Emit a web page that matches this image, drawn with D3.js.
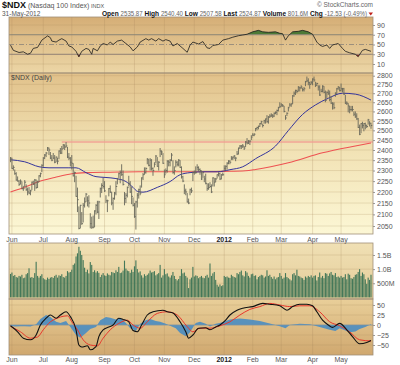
<!DOCTYPE html>
<html>
<head>
<meta charset="utf-8">
<script src="https://cdn.jsdelivr.net/npm/d3@7"></script>
<style>
  html, body { margin: 0; padding: 0; background: #fff; }
  svg { display: block; }
</style>
</head>
<body>
<div id="chart"></div>
<script>
/* ============================================================
   $NDX daily — RSI / price + MAs / volume / MACD, StockCharts style
   ============================================================ */

// ---- trading calendar: weekdays 31-May-2011 .. 31-May-2012 minus holidays
const holidays = ['2011-07-04', '2011-09-05', '2011-11-24', '2011-12-26',
  '2012-01-02', '2012-01-16', '2012-02-20', '2012-04-06', '2012-05-28'];
const monthLabels = ['Jun', 'Jul', 'Aug', 'Sep', 'Oct', 'Nov', 'Dec', '2012', 'Feb', 'Mar', 'Apr', 'May'];

// ---- daily bars (May 31 2011 first, then one row per month)
const closes = [
  2360, 2310, 2315, 2285, 2255, 2250, 2235, 2250, 2215, 2215, 2245, 2210, 2200, 2195, 2205, 2245, 2235, 2255, 2220, 2245, 2275, 2285, 2325,
  2360, 2375, 2385, 2410, 2400, 2360, 2350, 2360, 2340, 2365, 2345, 2395, 2385, 2405, 2425, 2415, 2420, 2365, 2360, 2340,
  2335, 2275, 2290, 2180, 2165, 2040, 2140, 2060, 2140, 2155, 2190, 2160, 2150, 2060, 2045, 2045, 2115, 2140, 2110, 2155, 2215, 2230, 2225,
  2205, 2160, 2160, 2215, 2200, 2150, 2170, 2195, 2225, 2260, 2285, 2290, 2280, 2235, 2170, 2185, 2220, 2240, 2200, 2180, 2140,
  2090, 2155, 2185, 2210, 2195, 2265, 2280, 2290, 2310, 2355, 2325, 2350, 2310, 2300, 2330, 2370, 2320, 2340, 2395, 2390, 2335,
  2280, 2300, 2345, 2340, 2350, 2375, 2290, 2300, 2340, 2330, 2350, 2315, 2270, 2250, 2205, 2200, 2155, 2150, 2210, 2205, 2290,
  2290, 2290, 2315, 2305, 2300, 2260, 2290, 2260, 2240, 2215, 2220, 2225, 2200, 2265, 2245, 2260, 2280, 2285, 2260, 2280, 2280,
  2310, 2320, 2335, 2345, 2340, 2360, 2365, 2370, 2360, 2380, 2410, 2420, 2420, 2420, 2410, 2440, 2435, 2445, 2445, 2465,
  2475, 2480, 2510, 2515, 2520, 2535, 2545, 2525, 2550, 2560, 2545, 2570, 2575, 2580, 2575, 2590, 2595, 2605, 2620, 2625,
  2635, 2630, 2600, 2565, 2590, 2620, 2635, 2640, 2685, 2700, 2715, 2710, 2735, 2730, 2735, 2720, 2725, 2765, 2770, 2760, 2750, 2760,
  2780, 2775, 2745, 2755, 2735, 2690, 2710, 2740, 2705, 2660, 2705, 2700, 2665, 2645, 2640, 2620, 2700, 2725, 2735, 2715,
  2725, 2725, 2695, 2645, 2645, 2630, 2610, 2610, 2610, 2585, 2575, 2560, 2515, 2480, 2535, 2525, 2535, 2525, 2520, 2555, 2537, 2525
];
const highs = [
  2365, 2362, 2325, 2305, 2292, 2272, 2255, 2258, 2248, 2228, 2255, 2235, 2220, 2222, 2210, 2248, 2252, 2260, 2258, 2252, 2278, 2290, 2330,
  2365, 2380, 2390, 2415, 2412, 2390, 2375, 2385, 2375, 2368, 2362, 2398, 2410, 2420, 2430, 2428, 2440, 2415, 2385, 2365,
  2375, 2335, 2295, 2275, 2220, 2135, 2142, 2110, 2150, 2175, 2195, 2180, 2185, 2105, 2090, 2095, 2118, 2145, 2160, 2160, 2220, 2240, 2265,
  2250, 2185, 2165, 2218, 2230, 2200, 2175, 2200, 2250, 2265, 2290, 2300, 2330, 2300, 2200, 2195, 2225, 2275, 2250, 2225, 2175,
  2150, 2160, 2195, 2215, 2230, 2268, 2288, 2315, 2315, 2360, 2355, 2360, 2355, 2315, 2340, 2375, 2365, 2345, 2410, 2398, 2385,
  2305, 2310, 2350, 2350, 2355, 2385, 2350, 2320, 2350, 2345, 2355, 2350, 2320, 2275, 2235, 2215, 2195, 2170, 2215, 2220, 2295,
  2300, 2320, 2330, 2320, 2310, 2300, 2295, 2275, 2285, 2240, 2240, 2245, 2235, 2268, 2265, 2265, 2282, 2292, 2290, 2283, 2290,
  2325, 2325, 2340, 2350, 2350, 2370, 2368, 2375, 2365, 2395, 2412, 2425, 2425, 2430, 2420, 2445, 2460, 2450, 2448, 2475,
  2485, 2485, 2512, 2518, 2525, 2538, 2550, 2535, 2555, 2562, 2580, 2575, 2585, 2590, 2585, 2595, 2600, 2610, 2625, 2650,
  2645, 2640, 2630, 2580, 2595, 2625, 2645, 2645, 2690, 2710, 2720, 2720, 2740, 2735, 2745, 2730, 2735, 2770, 2795, 2785, 2765, 2770,
  2785, 2795, 2765, 2760, 2745, 2745, 2725, 2745, 2740, 2715, 2710, 2720, 2715, 2685, 2650, 2650, 2705, 2730, 2740, 2735,
  2755, 2730, 2730, 2690, 2655, 2645, 2630, 2630, 2630, 2600, 2600, 2590, 2565, 2530, 2538, 2545, 2538, 2540, 2530, 2560, 2548, 2540
];
const lows = [
  2340, 2308, 2300, 2280, 2252, 2248, 2228, 2235, 2212, 2205, 2222, 2205, 2185, 2190, 2185, 2208, 2232, 2205, 2215, 2218, 2245, 2268, 2292,
  2318, 2355, 2365, 2395, 2375, 2355, 2345, 2355, 2335, 2340, 2330, 2355, 2380, 2380, 2405, 2400, 2412, 2360, 2350, 2320,
  2305, 2272, 2245, 2178, 2110, 2036, 2040, 2055, 2065, 2130, 2155, 2135, 2130, 2040, 2038, 2040, 2045, 2100, 2105, 2080, 2175, 2195, 2215,
  2200, 2150, 2110, 2180, 2195, 2140, 2120, 2165, 2185, 2235, 2265, 2240, 2275, 2230, 2140, 2150, 2175, 2225, 2195, 2145, 2135,
  2085, 2035, 2130, 2170, 2185, 2220, 2255, 2280, 2285, 2330, 2320, 2300, 2300, 2275, 2315, 2335, 2318, 2300, 2365, 2375, 2332,
  2265, 2285, 2290, 2320, 2320, 2345, 2285, 2280, 2315, 2320, 2320, 2312, 2262, 2245, 2190, 2185, 2152, 2145, 2185, 2195, 2250,
  2280, 2285, 2300, 2295, 2280, 2255, 2265, 2245, 2235, 2205, 2210, 2220, 2195, 2225, 2225, 2245, 2262, 2272, 2255, 2258, 2275,
  2300, 2300, 2305, 2330, 2330, 2350, 2350, 2355, 2345, 2375, 2378, 2405, 2405, 2410, 2400, 2415, 2428, 2430, 2425, 2450,
  2470, 2470, 2495, 2500, 2505, 2518, 2530, 2515, 2535, 2535, 2540, 2535, 2565, 2570, 2565, 2570, 2585, 2580, 2600, 2620,
  2625, 2625, 2595, 2555, 2575, 2600, 2625, 2625, 2640, 2680, 2690, 2700, 2710, 2710, 2725, 2710, 2710, 2740, 2765, 2745, 2725, 2750,
  2745, 2765, 2735, 2740, 2715, 2685, 2705, 2705, 2700, 2650, 2670, 2690, 2655, 2640, 2610, 2612, 2680, 2695, 2720, 2710,
  2710, 2705, 2690, 2640, 2635, 2595, 2590, 2600, 2600, 2575, 2565, 2555, 2512, 2475, 2485, 2510, 2495, 2505, 2512, 2530, 2520, 2508
];
// volume, millions of shares
const volumes = [
  830, 880, 760, 790, 720, 700, 760, 740, 800, 680, 700, 820, 860, 1030, 700, 720, 690, 860, 1260, 760, 700, 760, 820,
  680, 640, 620, 700, 650, 700, 720, 690, 760, 800, 700, 780, 760, 820, 720, 700, 760, 930, 880, 900,
  980, 1150, 1200, 1450, 1560, 1790, 1650, 1500, 1320, 1050, 900, 980, 850, 1250, 1150, 900, 960, 880, 930, 870, 720, 800, 860,
  780, 760, 850, 800, 780, 900, 880, 860, 960, 900, 1080, 860, 880, 950, 1300, 1020, 950, 930, 870, 980, 900,
  1100, 1310, 1000, 880, 920, 780, 700, 820, 760, 800, 850, 950, 880, 900, 930, 780, 820, 860, 1150, 700, 780,
  1000, 820, 850, 740, 700, 780, 900, 760, 650, 600, 650, 760, 1000, 850, 880, 760, 700, 330, 640, 700, 1080,
  740, 780, 760, 680, 720, 760, 700, 680, 760, 800, 700, 1200, 760, 850, 900, 620, 450, 380, 460, 400, 430,
  760, 720, 740, 700, 690, 800, 750, 720, 700, 860, 820, 900, 950, 780, 740, 930, 880, 760, 700, 820,
  840, 760, 780, 640, 720, 760, 800, 780, 700, 740, 960, 760, 800, 720, 660, 740, 640, 700, 720, 860,
  760, 660, 700, 860, 720, 680, 640, 600, 820, 860, 780, 980, 760, 740, 700, 680, 620, 740, 700, 760, 720, 780,
  700, 760, 780, 600, 720, 880, 700, 760, 680, 860, 840, 760, 850, 900, 800, 780, 860, 720, 740, 700,
  760, 700, 720, 820, 640, 840, 800, 680, 660, 720, 800, 820, 900, 1000, 760, 880, 820, 640, 480, 700, 620, 802
];

// ---- overlays as [trading day, value]
const ma50 = [[0, 2352], [10, 2342], [20, 2318], [27, 2313], [41, 2313], [46, 2313], [53, 2290], [60, 2271],
  [67, 2267], [74, 2262], [81, 2248], [86, 2221], [89, 2203], [93, 2199], [103, 2221], [112, 2248], [119, 2280],
  [126, 2290], [135, 2294], [145, 2294], [154, 2304], [163, 2318], [172, 2357], [186, 2420], [195, 2499],
  [205, 2584], [214, 2635], [223, 2672], [233, 2700], [242, 2695], [253, 2662]];
const ma200 = [[0, 2200], [8, 2217], [20, 2248], [31, 2267], [43, 2285], [53, 2290], [70, 2292], [90, 2294],
  [110, 2294], [130, 2294], [150, 2296], [165, 2299], [172, 2305], [195, 2337], [219, 2386], [242, 2420], [253, 2435]];
const resistance = { value: 2440, fromDay: 36 };

const rsi = [[0, 48.6], [2, 38], [6, 33.6], [9, 35], [12, 30], [14, 32], [16, 42], [19, 44], [22, 59], [26, 67.6],
  [28, 64], [29, 57], [32, 55], [34, 59], [36, 62], [39, 57], [41, 47], [43, 45], [46, 36], [48, 24.6], [50, 36],
  [53, 42], [55, 40], [57, 30], [58, 42], [61, 37], [63, 47], [65, 52], [68, 49], [70, 55], [72, 50], [75, 57],
  [78, 59], [81, 52], [84, 45], [86, 37], [89, 45], [91, 55], [95, 62], [97, 59], [99, 62], [102, 57], [104, 62],
  [107, 57], [109, 60], [112, 57], [114, 47], [117, 52], [121, 42], [124, 34], [126, 48.6], [128, 55], [132, 51],
  [135, 56], [138, 43], [140, 42], [142, 48], [146, 50], [149, 59], [153, 62], [156, 65], [160, 68], [163, 69.5],
  [166, 71], [170, 76], [174, 79], [177, 76], [181, 75], [186, 76], [189, 73], [191, 72], [193, 59], [195, 68],
  [198, 76], [202, 77], [205, 79], [209, 76], [212, 71], [215, 55], [217, 49], [219, 46], [222, 49], [224, 42],
  [226, 49], [230, 52], [233, 42], [235, 36], [238, 33], [242, 30], [244, 25], [247, 38], [249, 40], [253, 36]];

const macd = [[0, -2], [5, -17], [9, -33], [14, -37], [18, -25], [21, 0], [25, 17], [28, 25], [32, 17], [35, 25],
  [39, 33], [42, 21], [46, -12], [48, -50], [50, -55], [54, -52], [56, -62], [60, -54], [62, -29], [65, -12],
  [69, -5], [72, 0], [76, 17], [79, 14], [83, 8], [86, -14], [89, -17], [92, 0], [96, 25], [100, 33], [107, 37],
  [110, 33], [114, 30], [119, 8], [123, -17], [125, -33], [128, -25], [132, -8], [137, -7], [140, -12], [144, -5],
  [147, 0], [151, 12], [154, 25], [159, 37], [163, 42], [170, 46], [177, 54], [182, 52], [189, 48], [194, 37],
  [198, 46], [203, 52], [208, 52], [212, 48], [215, 33], [219, 12], [223, 0], [226, -6], [231, 4], [236, -12],
  [240, -29], [245, -47], [250, -44], [253, -39]];
const signal = [[0, -3], [7, -17], [14, -33], [19, -30], [23, -12], [28, 8], [32, 16], [35, 20], [40, 23], [43, 8],
  [47, -12], [51, -37], [56, -50], [61, -52], [65, -33], [70, -12], [76, 4], [82, 12], [86, 0], [91, -8], [96, 8],
  [103, 29], [110, 33], [117, 25], [124, -4], [128, -17], [133, -8], [140, -8], [147, -2], [154, 8], [161, 25],
  [168, 39], [175, 46], [182, 54], [189, 50], [196, 46], [203, 48], [210, 48], [217, 33], [224, 8], [231, -2],
  [238, -17], [245, -37], [253, -40]];
const histogram = [[0, -2], [3, -4], [7, -3], [10, -3], [14, -4], [18, 2], [21, 15], [25, 25], [28, 20], [32, 8],
  [35, 5], [39, 10], [42, -5], [46, -25], [49, -32], [53, -20], [56, -10], [60, -5], [63, 12], [67, 20], [70, 18],
  [74, 14], [77, 18], [81, 5], [84, -8], [88, -15], [91, 3], [95, 12], [98, 15], [102, 10], [105, 8], [109, 3],
  [112, -2], [116, -8], [119, -20], [123, -28], [126, -18], [130, 5], [133, 8], [137, 3], [140, -4], [144, 3],
  [147, 5], [151, 10], [154, 14], [161, 16], [168, 14], [175, 10], [182, 4], [189, -3], [193, -8], [196, 0],
  [203, 3], [210, 2], [217, -5], [224, -12], [228, -15], [231, -8], [235, -14], [238, -18], [242, -16],
  [245, -10], [249, -5], [253, 2]];

// ---- tick labels
const rsiTicks = [10, 30, 50, 70, 90];
const priceTicks = [2050, 2100, 2150, 2200, 2250, 2300, 2350, 2400, 2450, 2500, 2550, 2600, 2650, 2700, 2750, 2800];
const volTicks = [500, 1000, 1500];
const volLabels = ['500M', '1.0B', '1.5B'];
const macdTicks = [-50, -25, 0, 25, 50];

// ============================================================
const W = 400, H = 365;
const L = 9, R = 373;
const FONT = "'Liberation Sans', Arial, sans-serif";
const panels = {
  rsi:   { top: 17,  bottom: 73 },
  price: { top: 73,  bottom: 234 },
  vol:   { top: 243, bottom: 299 },
  macd:  { top: 299, bottom: 355 }
};

const fmtDay = d3.timeFormat('%Y-%m-%d');
const days = d3.timeDay.range(new Date(2011, 4, 31), new Date(2012, 5, 1))
  .filter(d => d.getDay() % 6 !== 0 && !holidays.includes(fmtDay(d)));
const monthStarts = days.map((d, i) => i)
  .filter(i => i > 0 && days[i].getMonth() !== days[i - 1].getMonth());

const x = d3.scaleLinear().domain([0, days.length - 1]).range([10.5, 371]);
const yRsi = d3.scaleLinear().domain([10, 90]).range([64, 25]);
const yPrice = d3.scaleLog().domain([2050, 2800]).range([226, 75.7]);
const yVol = d3.scaleLinear().domain([0, 1500]).range([297.4, 255]);
const yMacd = d3.scaleLinear().domain([-50, 50]).range([345, 305]);

const svg = d3.select('#chart').append('svg')
  .attr('width', W).attr('height', H)
  .style('font-family', FONT);
svg.append('rect').attr('width', W).attr('height', H).attr('fill', '#fff');
const defs = svg.append('defs');

function gradient(id, stops) {
  const g = defs.append('linearGradient').attr('id', id)
    .attr('x1', 0).attr('y1', 0).attr('x2', 0).attr('y2', 1);
  stops.forEach(([o, c]) => g.append('stop').attr('offset', o).attr('stop-color', c));
}
gradient('gRsi', [[0, '#d5ae76'], [1, '#ecd6a6']]);
gradient('gPrice', [[0, '#e1c18a'], [0.45, '#f1e1b3'], [1, '#fcf7d5']]);
gradient('gVol', [[0, '#f0e0b4'], [1, '#e4cc98']]);
gradient('gMacd', [[0, '#e9cf99'], [1, '#d0a86f']]);

/**
 * Panel background, month grid, horizontal grid; returns a clipped group.
 */
function panel(key, fill, yScale, ticks) {
  const p = panels[key];
  defs.append('clipPath').attr('id', 'clip-' + key).append('rect')
    .attr('x', L).attr('y', p.top).attr('width', R - L).attr('height', p.bottom - p.top);
  const g = svg.append('g');
  g.append('rect')
    .attr('x', L).attr('y', p.top).attr('width', R - L).attr('height', p.bottom - p.top)
    .attr('fill', `url(#${fill})`);
  g.selectAll('line.h').data(ticks).join('line').attr('class', 'h')
    .attr('x1', L).attr('x2', R)
    .attr('y1', d => yScale(d)).attr('y2', d => yScale(d))
    .attr('stroke', '#a8875a').attr('stroke-opacity', 0.28).attr('stroke-width', 0.8);
  g.selectAll('line.v').data(monthStarts).join('line').attr('class', 'v')
    .attr('x1', d => x(d)).attr('x2', d => x(d))
    .attr('y1', p.top).attr('y2', p.bottom)
    .attr('stroke', '#a8875a').attr('stroke-opacity', 0.3).attr('stroke-width', 0.8);
  return g.append('g').attr('clip-path', `url(#clip-${key})`);
}

function rightAxis(scale, ticks, fmt) {
  const ax = svg.append('g').attr('transform', `translate(${R},0)`)
    .call(d3.axisRight(scale).tickValues(ticks).tickSize(2).tickPadding(2).tickFormat(fmt));
  ax.select('.domain').remove();
  ax.selectAll('line').attr('stroke', '#999');
  ax.selectAll('text')
    .attr('fill', '#555')
    .style('font-size', '7px')
    .style('font-family', FONT);
}

function monthAxis(y) {
  svg.append('g').selectAll('text').data(monthStarts).join('text')
    .attr('x', d => x(d)).attr('y', y)
    .attr('text-anchor', 'middle')
    .attr('fill', (d, i) => monthLabels[i] === '2012' ? '#222' : '#555')
    .style('font-weight', (d, i) => monthLabels[i] === '2012' ? 'bold' : null)
    .style('font-size', '7px')
    .text((d, i) => monthLabels[i]);
}

const lineOf = (yScale, curve) => d3.line()
  .x(d => x(d[0])).y(d => yScale(d[1])).curve(curve || d3.curveLinear);

// ---- RSI panel
const rsiG = panel('rsi', 'gRsi', yRsi, [10, 90]);
defs.append('clipPath').attr('id', 'clip-ob').append('rect')
  .attr('x', L).attr('y', panels.rsi.top).attr('width', R - L).attr('height', yRsi(70) - panels.rsi.top);
defs.append('clipPath').attr('id', 'clip-os').append('rect')
  .attr('x', L).attr('y', yRsi(30)).attr('width', R - L).attr('height', panels.rsi.bottom - yRsi(30));
rsiG.append('path').datum(rsi)
  .attr('clip-path', 'url(#clip-ob)')
  .attr('d', d3.area().x(d => x(d[0])).y0(yRsi(70)).y1(d => yRsi(d[1])))
  .attr('fill', '#4d7a36');
rsiG.append('path').datum(rsi)
  .attr('clip-path', 'url(#clip-os)')
  .attr('d', d3.area().x(d => x(d[0])).y0(yRsi(30)).y1(d => yRsi(d[1])))
  .attr('fill', '#9b2b25');
[70, 30].forEach(v => rsiG.append('line')
  .attr('x1', L).attr('x2', R).attr('y1', yRsi(v)).attr('y2', yRsi(v))
  .attr('stroke', '#8a8378').attr('stroke-width', 0.9));
rsiG.append('line')
  .attr('x1', L).attr('x2', R).attr('y1', yRsi(50)).attr('y2', yRsi(50))
  .attr('stroke', '#8a8378').attr('stroke-width', 0.8).attr('stroke-dasharray', '5,2,1,2');
rsiG.append('path').datum(rsi)
  .attr('d', lineOf(yRsi))
  .attr('fill', 'none').attr('stroke', '#1a1a1a').attr('stroke-width', 0.8);
rightAxis(yRsi, rsiTicks, d3.format('d'));

// ---- price panel
const priceG = panel('price', 'gPrice', yPrice, priceTicks);
priceG.append('line')
  .attr('x1', x(resistance.fromDay)).attr('x2', R)
  .attr('y1', yPrice(resistance.value)).attr('y2', yPrice(resistance.value))
  .attr('stroke', '#f09a90').attr('stroke-width', 1.6).attr('stroke-opacity', 0.85);
priceG.append('path').datum(ma200)
  .attr('d', lineOf(yPrice, d3.curveMonotoneX))
  .attr('fill', 'none').attr('stroke', '#ee5252').attr('stroke-width', 1.1);
priceG.append('path').datum(ma50)
  .attr('d', lineOf(yPrice, d3.curveMonotoneX))
  .attr('fill', 'none').attr('stroke', '#34349c').attr('stroke-width', 1);
const bars = priceG.append('g').attr('stroke', '#67675a').attr('stroke-width', 0.9);
bars.selectAll('line.hl').data(closes).join('line').attr('class', 'hl')
  .attr('x1', (d, i) => x(i)).attr('x2', (d, i) => x(i))
  .attr('y1', (d, i) => yPrice(highs[i])).attr('y2', (d, i) => yPrice(lows[i]));
bars.selectAll('line.c').data(closes).join('line').attr('class', 'c')
  .attr('x1', (d, i) => x(i)).attr('x2', (d, i) => x(i) + 1.3)
  .attr('y1', d => yPrice(d)).attr('y2', d => yPrice(d));
svg.append('text')
  .attr('x', 11).attr('y', 80)
  .attr('fill', '#444').style('font-size', '7px')
  .text('$NDX (Daily)');
rightAxis(yPrice, priceTicks, d3.format('d'));

// ---- volume panel
const volG = panel('vol', 'gVol', yVol, volTicks);
const bw = (x(1) - x(0)) * 0.78;
volG.selectAll('rect.v').data(volumes).join('rect').attr('class', 'v')
  .attr('x', (d, i) => x(i) - bw / 2).attr('width', bw)
  .attr('y', d => yVol(d)).attr('height', d => yVol(0) - yVol(d))
  .attr('fill', '#447859');
rightAxis(yVol, volTicks, (d, i) => volLabels[i]);

// ---- MACD panel
const macdG = panel('macd', 'gMacd', yMacd, macdTicks);
macdG.append('path').datum(histogram)
  .attr('d', d3.area().x(d => x(d[0])).y0(yMacd(0)).y1(d => yMacd(d[1])))
  .attr('fill', '#4189c6').attr('fill-opacity', 0.85);
macdG.append('line')
  .attr('x1', L).attr('x2', R).attr('y1', yMacd(0)).attr('y2', yMacd(0))
  .attr('stroke', '#7f96a8').attr('stroke-width', 0.7);
macdG.append('path').datum(signal)
  .attr('d', lineOf(yMacd, d3.curveMonotoneX))
  .attr('fill', 'none').attr('stroke', '#e8372c').attr('stroke-width', 1);
macdG.append('path').datum(macd)
  .attr('d', lineOf(yMacd, d3.curveMonotoneX))
  .attr('fill', 'none').attr('stroke', '#111').attr('stroke-width', 1.1);
rightAxis(yMacd, macdTicks, d3.format('d'));

// ---- panel borders
Object.values(panels).forEach(p => svg.append('rect')
  .attr('x', L).attr('y', p.top).attr('width', R - L).attr('height', p.bottom - p.top)
  .attr('fill', 'none').attr('stroke', '#a09078').attr('stroke-width', 0.8));

monthAxis(241.5);
monthAxis(361.5);

// ---- header
const h1 = svg.append('text').attr('x', 2).attr('y', 8).attr('fill', '#555');
h1.append('tspan').text('$NDX').attr('fill', '#111').style('font-weight', 'bold').style('font-size', '9px');
h1.append('tspan').text(' (Nasdaq 100 Index)').style('font-size', '7px');
h1.append('tspan').text(' INDX').style('font-size', '5.5px');
svg.append('text').attr('x', R).attr('y', 6.5).attr('text-anchor', 'end')
  .attr('fill', '#666').style('font-size', '6.5px').text('\u00A9 StockCharts.com');
svg.append('text').attr('x', 2).attr('y', 15.5).attr('fill', '#555')
  .style('font-size', '6.5px').text('31-May-2012');
const h2 = svg.append('text').attr('x', 102).attr('y', 15.5)
  .attr('textLength', 265).attr('lengthAdjust', 'spacingAndGlyphs')
  .attr('fill', '#666').style('font-size', '6.5px');
[['Open', '2535.87'], ['High', '2540.40'], ['Low', '2507.58'], ['Last', '2524.87'],
 ['Volume', '801.6M'], ['Chg', '-12.53 (-0.49%)']].forEach(([k, v], i) => {
  h2.append('tspan').text((i ? '  ' : '') + k + ' ').attr('fill', '#111').style('font-weight', 'bold').style('font-size', '7px');
  h2.append('tspan').text(v);
});
svg.append('path')
  .attr('d', 'M368.5,12.5 L373,12.5 L370.75,15.5 Z')
  .attr('fill', '#c0201a');
</script>
</body>
</html>
